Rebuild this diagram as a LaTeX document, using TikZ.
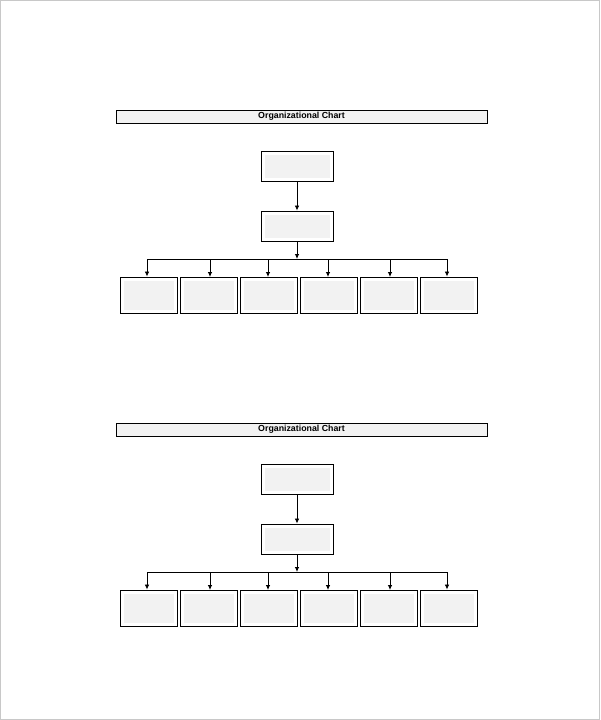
\documentclass[tikz,border=0pt]{standalone}
\usepackage{fontspec}
\setmainfont{Liberation Sans}
\usetikzlibrary{arrows.meta}
\definecolor{boxgray}{HTML}{F2F2F2}
\definecolor{pageline}{HTML}{C8C8C8}
\tikzset{
  orgbox/.style={draw=black, line width=0.9pt, fill=white, inner sep=0pt,
    path picture={\fill[boxgray] ([shift={(3.5pt,-3.5pt)}]path picture bounding box.north west) rectangle ([shift={(-3.5pt,3.5pt)}]path picture bounding box.south east);}},
  topbox/.style={orgbox, minimum width=72pt, minimum height=30pt},
  leafbox/.style={orgbox, minimum width=57pt, minimum height=36pt},
  titlebar/.style={draw=black, line width=0.6pt, fill=boxgray, minimum width=371pt, minimum height=13pt, inner sep=0pt, font=\bfseries\fontsize{8.8}{10}\selectfont},
  conn/.style={line width=0.8pt, -{Latex[length=5pt,width=4.5pt]}},
  bus/.style={line width=0.8pt}
}
\newcommand{\orgchart}[2]{%
  \begin{scope}[yshift=#2]
  \node[titlebar] (#1t) at (301.5,116.5) {Organizational Chart};
  \node[topbox] (#1a) at (297,166) {};
  \node[topbox] (#1b) at (297,226) {};
  \coordinate (#1bl) at (147,259);
  \coordinate (#1br) at (447,259);
  \coordinate (#1bm) at (297,259);
  \node[leafbox] (#1c1) at (148.5,295) {};
  \node[leafbox] (#1c2) at (208.5,295) {};
  \node[leafbox] (#1c3) at (268.5,295) {};
  \node[leafbox] (#1c4) at (328.5,295) {};
  \node[leafbox] (#1c5) at (388.5,295) {};
  \node[leafbox] (#1c6) at (448.5,295) {};
  \draw[conn] (#1a) -- (#1b);
  \draw[conn] (#1b) -- (#1bm);
  \draw[bus] (#1bl) -- (#1br);
  \draw[conn] (#1bl) -- (#1bl |- #1c1.north);
  \draw[conn] (210,259) -- (210,277);
  \draw[conn] (268,259) -- (268,277);
  \draw[conn] (328,259) -- (328,277);
  \draw[conn] (390,259) -- (390,277);
  \draw[conn] (#1br) -- (#1br |- #1c6.north);
  \end{scope}}
\begin{document}
\begin{tikzpicture}[x=1pt,y=-1pt]
\useasboundingbox (0,0) rectangle (600,720);
\draw[pageline, line width=1pt] (0.5,0.5) rectangle (599.5,719.5);
\orgchart{u}{0pt}
\orgchart{l}{-313pt}
\end{tikzpicture}
\end{document}
